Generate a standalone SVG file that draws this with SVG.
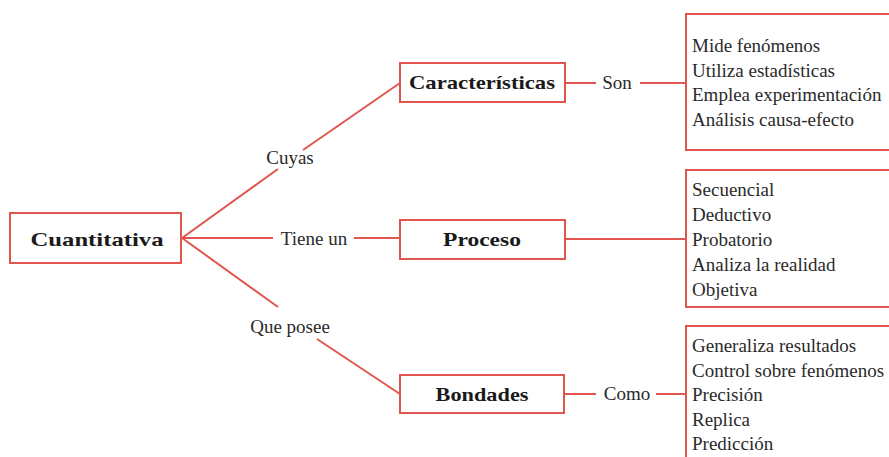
<svg xmlns="http://www.w3.org/2000/svg" width="889" height="457" viewBox="0 0 889 457">
<style>
.box{fill:#fff;stroke:#e0564e;stroke-width:2}
.ln{stroke:#e0564e;stroke-width:2;fill:none}
.b{font-family:"Liberation Serif",serif;font-weight:bold;font-size:19px;fill:#1a1a1a}
.t{font-family:"Liberation Serif",serif;font-size:19px;fill:#2a2a2a}
</style>
<rect width="889" height="457" fill="#fff"/>
<g id="connectors">
<line class="ln" x1="182" y1="238" x2="278" y2="169"/>
<line class="ln" x1="303" y1="150" x2="400" y2="83"/>
<line class="ln" x1="182" y1="238" x2="273" y2="238"/>
<line class="ln" x1="354" y1="238" x2="400" y2="238"/>
<line class="ln" x1="182" y1="238" x2="278" y2="307"/>
<line class="ln" x1="317" y1="339" x2="400" y2="394"/>
<line class="ln" x1="565" y1="83" x2="596" y2="83"/>
<line class="ln" x1="640" y1="83" x2="686" y2="83"/>
<line class="ln" x1="565" y1="239" x2="686" y2="239"/>
<line class="ln" x1="564" y1="394" x2="596" y2="394"/>
<line class="ln" x1="656" y1="394" x2="686" y2="394"/>
<text class="t" x="290" y="164" text-anchor="middle">Cuyas</text>
<text class="t" x="314" y="245" text-anchor="middle">Tiene un</text>
<text class="t" x="290" y="333" text-anchor="middle">Que posee</text>
<text class="t" x="617" y="89" text-anchor="middle">Son</text>
<text class="t" x="627" y="400" text-anchor="middle">Como</text>
</g>
<g id="cuantitativa">
<rect class="box" x="10" y="213" width="171" height="50"/>
<text class="b" x="97" y="246" text-anchor="middle" textLength="133" lengthAdjust="spacingAndGlyphs">Cuantitativa</text>
</g>
<g id="caracteristicas">
<rect class="box" x="400" y="63" width="165" height="39"/>
<text class="b" x="482" y="89" text-anchor="middle" textLength="146" lengthAdjust="spacingAndGlyphs">Características</text>
</g>
<g id="proceso">
<rect class="box" x="400" y="220" width="165" height="39"/>
<text class="b" x="482" y="246" text-anchor="middle" textLength="78" lengthAdjust="spacingAndGlyphs">Proceso</text>
</g>
<g id="bondades">
<rect class="box" x="400" y="375" width="164" height="38"/>
<text class="b" x="482" y="401" text-anchor="middle" textLength="93" lengthAdjust="spacingAndGlyphs">Bondades</text>
</g>
<g id="lista-caracteristicas">
<rect class="box" x="686" y="14" width="230" height="136"/>
<text class="t" x="692" y="52">Mide fenómenos</text>
<text class="t" x="692" y="77">Utiliza estadísticas</text>
<text class="t" x="692" y="101">Emplea experimentación</text>
<text class="t" x="692" y="126">Análisis causa-efecto</text>
</g>
<g id="lista-proceso">
<rect class="box" x="686" y="170" width="230" height="137"/>
<text class="t" x="692" y="196">Secuencial</text>
<text class="t" x="692" y="221">Deductivo</text>
<text class="t" x="692" y="246">Probatorio</text>
<text class="t" x="692" y="271">Analiza la realidad</text>
<text class="t" x="692" y="296">Objetiva</text>
</g>
<g id="lista-bondades">
<rect class="box" x="686" y="326" width="230" height="150"/>
<text class="t" x="692" y="352">Generaliza resultados</text>
<text class="t" x="692" y="377">Control sobre fenómenos</text>
<text class="t" x="692" y="401">Precisión</text>
<text class="t" x="692" y="426">Replica</text>
<text class="t" x="692" y="450">Predicción</text>
</g>
</svg>
